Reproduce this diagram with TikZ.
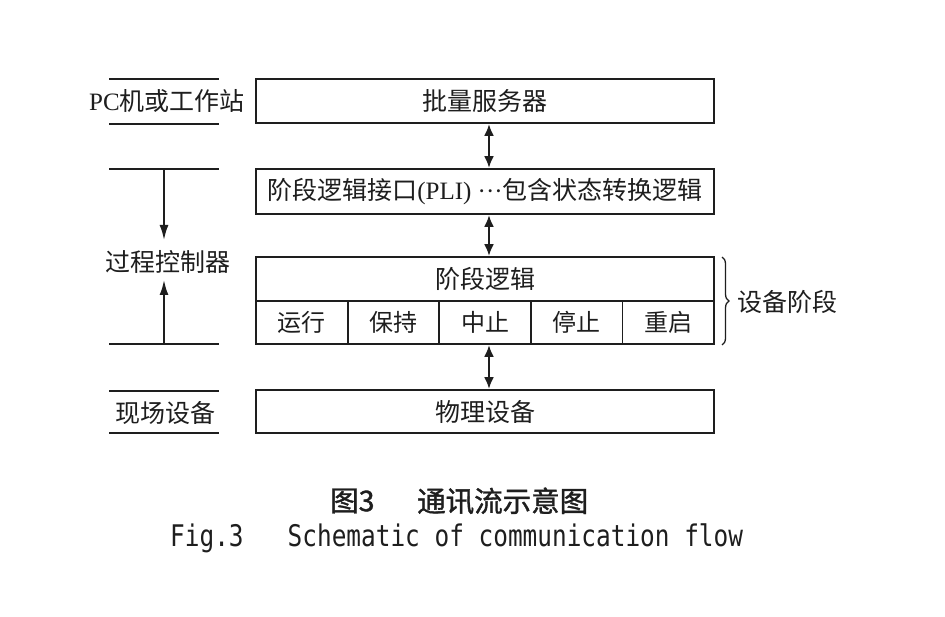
\documentclass[tikz,border=0pt]{standalone}
\usepackage{fontspec}
\setmainfont{Noto Sans CJK SC}
\newfontfamily\monof{DejaVu Sans Mono}
\newfontfamily\latf{Liberation Serif}
\newfontfamily\capfont[RawFeature={embolden=1.3}]{Noto Sans CJK SC}
\usetikzlibrary{arrows.meta,calc,decorations.pathreplacing}
\definecolor{ink}{RGB}{30,30,30}
\begin{document}
\begin{tikzpicture}[x=1pt,y=-1pt,
  lab/.style={text=ink,font=\fontsize{25}{30}\selectfont,inner sep=0pt},
  box/.style={draw=ink,line width=1.8pt,minimum width=458pt,inner sep=0pt,text=ink,font=\fontsize{25}{30}\selectfont},
  cellbox/.style={box,minimum width=91.6pt,minimum height=43pt,font=\fontsize{24}{28}\selectfont},
  rulel/.style={draw=ink,line width=2.2pt},
  biarrow/.style={line width=2.4pt,draw=ink,{Latex[length=12pt,width=10pt]}-{Latex[length=12pt,width=10pt]}},
  onearrow/.style={line width=2pt,draw=ink,-{Latex[length=15pt,width=9pt]}}]
\useasboundingbox (0,0) rectangle (945,617);
\fill[white] (0,0) rectangle (945,617);
% right column boxes
\node[box,minimum height=44pt] (batch) at (485,101) {批量服务器};
\node[box,minimum height=45pt] (pli) at (485,191.5) {阶段逻辑接口{\latf (PLI) ···}包含状态转换逻辑};
\node[box,minimum height=44pt] (phase) at (485,279) {阶段逻辑};
\node[cellbox] (c1) at (301.8,322.5) {运行};
\node[cellbox] (c2) at (393.4,322.5) {保持};
\node[cellbox] (c3) at (485,322.5) {中止};
\node[cellbox] (c4) at (576.6,322.5) {停止};
\node[cellbox] (c5) at (668.2,322.5) {重启};
\node[box,minimum height=43pt] (phys) at (485,411.5) {物理设备};
% double arrows
\draw[biarrow] ($(batch.south)+(4,0)$) -- ($(pli.north)+(4,0)$);
\draw[biarrow] ($(pli.south)+(4,0)$) -- ($(phase.north)+(4,0)$);
\draw[biarrow] ($(c3.south)+(4,0)$) -- ($(phys.north)+(4,0)$);
% brace
\draw[ink,line width=1.3pt,decorate,decoration={brace,amplitude=7pt}] (722,257) -- (722,345);
\node[lab,anchor=west] (stage) at (737,302) {设备阶段};
% left column
\draw[rulel] (109,79) -- (219,79);
\draw[rulel] (109,124) -- (219,124);
\node[lab] (pc) at (167,101) {{\latf PC}机或工作站};
\draw[rulel] (109,169) -- (219,169);
\draw[rulel] (109,344) -- (219,344);
\node[lab] (proc) at (168,262) {过程控制器};
\coordinate (dtop) at (164,169);
\coordinate (dtip) at (164,240);
\coordinate (ubot) at (164,344);
\coordinate (utip) at (164,280);
\draw[onearrow] (dtop) -- (dtip);
\draw[onearrow] (ubot) -- (utip);
\draw[rulel] (109,391) -- (219,391);
\draw[rulel] (109,433) -- (219,433);
\node[lab] (field) at (165,413) {现场设备};
% caption
\node[text=ink,anchor=west,inner sep=0pt,font=\fontsize{28.5}{30}\capfont] (capa) at (330,501) {图3};
\node[text=ink,anchor=west,inner sep=0pt,font=\fontsize{28.5}{30}\capfont] (capb) at (417,501) {通讯流示意图};
\node[text=ink,anchor=base west,inner sep=0pt] (capen) at (170,546) {\scalebox{1}[1.22]{\monof\fontsize{24.4}{28}\selectfont Fig.3\ \ \ Schematic of communication flow}};
\end{tikzpicture}
\end{document}
